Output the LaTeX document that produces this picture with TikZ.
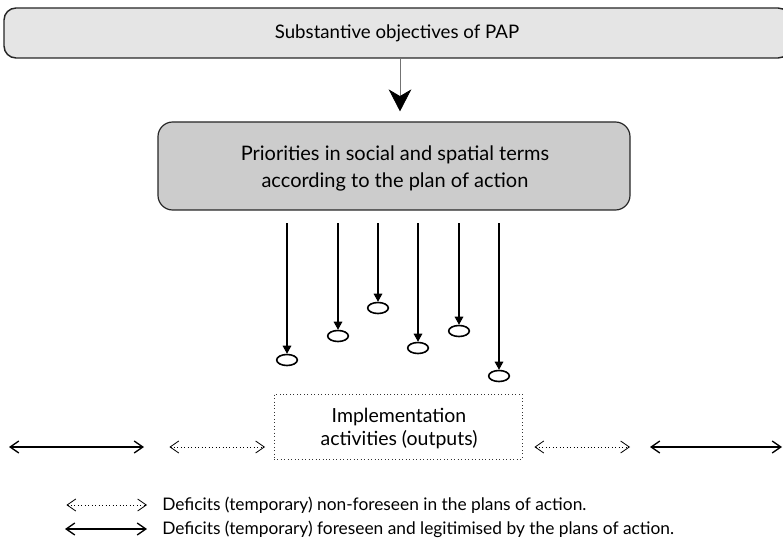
\documentclass[tikz,border=0pt]{standalone}
\usepackage{fontspec}
\setmainfont{Lato}
\usetikzlibrary{arrows.meta,shapes.geometric}

\begin{document}
\begin{tikzpicture}[x=0.75pt,y=-0.75pt,
  topbox/.style={draw=black!85,line width=1.1pt,fill=black!10,rounded corners=9pt,
    minimum width=589.5pt,minimum height=37.5pt,inner sep=0pt,
    font=\fontsize{14}{16}\selectfont},
  priobox/.style={draw=black!85,line width=0.9pt,fill=black!20,rounded corners=11pt,
    minimum width=354pt,minimum height=66pt,inner sep=0pt,align=center,
    font=\fontsize{15}{20.25}\selectfont},
  implbox/.style={draw=black!80,line width=0.6pt,dotted,minimum width=186pt,
    minimum height=48.75pt,inner sep=0pt,align=center,
    font=\fontsize{14.6}{17.25}\selectfont},
  outcome/.style={ellipse,draw,line width=1.2pt,minimum width=15.5pt,
    minimum height=8.25pt,inner sep=0pt},
  mainarrow/.style={draw=black!55,line width=0.6pt,
    -{Stealth[length=16.5pt,width=17pt,inset=5pt,color=black]}},
  pull/.style={line width=0.8pt,-{Triangle[length=6pt,width=6.5pt]}},
  foreseen/.style={line width=1pt,{Straight Barb[length=6.5pt,width=9pt]}-{Straight Barb[length=6.5pt,width=9pt]}},
  unforeseen/.style={line width=0.6pt,dotted,
    {Straight Barb[length=6.5pt,width=9pt,line width=0.6pt,sep]}-{Straight Barb[length=6.5pt,width=9pt,line width=0.6pt]}},
  legendtext/.style={anchor=west,inner sep=0pt,font=\fontsize{13}{15}\selectfont}
]
\useasboundingbox (0,0) rectangle (783,542);
\clip (0,0) rectangle (783,542);

% boxes
\node[topbox] (obj) at (397,33) {Substantive objectives of PAP};
\node[priobox] (prio) at (394,166) {};
\node[align=center,inner sep=0pt,font=\fontsize{15}{20.25}\selectfont] (priotext) at (395,168.5)
  {Priorities in social and spatial terms\\according to the plan of action};
\node[implbox] (impl) at (398,426.5) {};
\node[align=center,inner sep=0pt,font=\fontsize{14.6}{17.25}\selectfont] (impltext) at (399,428.5)
  {Implementation\\activities (outputs)};

\coordinate (ax) at (400,0);
\draw[mainarrow] (obj.south -| ax) -- ([yshift=7.5pt]prio.north -| ax);

% outputs hanging from the priorities
\foreach \i/\x/\y in {1/287/360,2/338/336,3/378/308,4/418/348,5/459/331,6/499/376}{
  \coordinate (s\i) at (\x,223);
  \node[outcome] (e\i) at (\x,\y) {};
  \draw[pull] (s\i) -- (e\i.north);
}

% deficit ranges
\coordinate (la1) at (9,447);   \coordinate (la2) at (144,447);
\coordinate (lb1) at (168,447); \coordinate (lb2) at (265,447);
\coordinate (rb1) at (533,447); \coordinate (rb2) at (630,447);
\coordinate (ra1) at (650,447); \coordinate (ra2) at (782,447);
\draw[foreseen] (la1) -- (la2);
\draw[unforeseen] (lb1) -- (lb2);
\draw[unforeseen] (rb1) -- (rb2);
\draw[foreseen] (ra1) -- (ra2);

% legend
\coordinate (k1a) at (65,505); \coordinate (k1b) at (147,505);
\coordinate (k2a) at (65,529); \coordinate (k2b) at (147,529);
\draw[unforeseen] (k1a) -- (k1b);
\draw[foreseen] (k2a) -- (k2b);
\node[legendtext] (t1) at (162,505) {Deficits (temporary) non-foreseen in the plans of action.};
\node[legendtext] (t2) at (162,529) {Deficits (temporary) foreseen and legitimised by the plans of action.};
\end{tikzpicture}
\end{document}
